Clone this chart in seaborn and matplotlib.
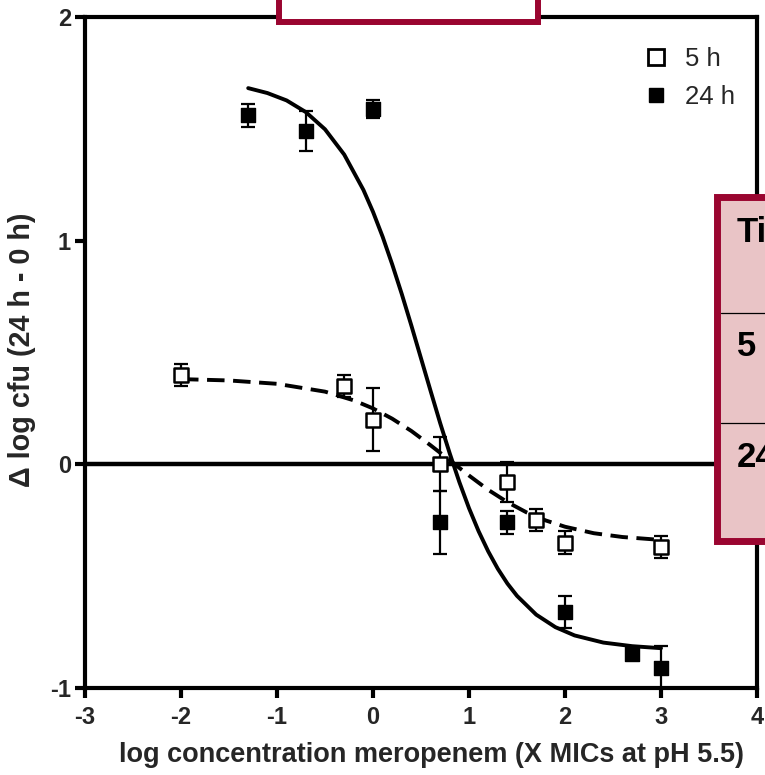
import matplotlib
matplotlib.use("Agg")
import matplotlib.pyplot as plt
import seaborn as sns
import pandas as pd
from matplotlib.patches import Rectangle
from matplotlib.lines import Line2D

# ---- data ----
x_5h = [-2.0, -0.3, 0.0, 0.7, 1.4, 1.7, 2.0, 3.0]
y_5h = [0.40, 0.35, 0.20, 0.00, -0.08, -0.25, -0.35, -0.37]
e_5h = [0.05, 0.05, 0.14, 0.12, 0.09, 0.05, 0.05, 0.05]

x_24h = [-1.3, -0.7, 0.0, 0.7, 1.4, 2.0, 2.7, 3.0]
y_24h = [1.56, 1.49, 1.59, -0.26, -0.26, -0.66, -0.85, -0.91]
e_24h = [0.05, 0.09, 0.04, 0.14, 0.05, 0.07, 0.01, 0.10]

# fitted curves
fit24_x = [-1.3, -1.1, -0.9, -0.7, -0.5, -0.3, -0.1, 0.0, 0.1, 0.2, 0.3, 0.4, 0.5,
           0.6, 0.7, 0.8, 0.9, 1.0, 1.1, 1.2, 1.3, 1.4, 1.5, 1.7, 1.9, 2.1, 2.4, 2.7, 3.0]
fit24_y = [1.682, 1.660, 1.627, 1.575, 1.498, 1.385, 1.227, 1.129, 1.018, 0.894, 0.761,
           0.620, 0.474, 0.328, 0.184, 0.048, -0.080, -0.196, -0.299, -0.389, -0.467,
           -0.533, -0.588, -0.672, -0.728, -0.765, -0.797, -0.813, -0.822]

fit5_x = [-2.0, -1.5, -1.0, -0.5, -0.2, 0.0, 0.2, 0.4, 0.6, 0.8, 1.0, 1.2, 1.4, 1.6,
          1.8, 2.0, 2.3, 2.6, 3.0]
fit5_y = [0.381, 0.375, 0.360, 0.325, 0.286, 0.250, 0.204, 0.149, 0.085, 0.018,
          -0.050, -0.114, -0.169, -0.215, -0.251, -0.279, -0.308, -0.325, -0.338]

legend_labels = ["5 h", "24 h"]
x_ticks = [-3, -2, -1, 0, 1, 2, 3, 4]
y_ticks = [-1, 0, 1, 2]
x_label = "log concentration meropenem (X MICs at pH 5.5)"
y_label = "\u0394 log cfu (24 h - 0 h)"
table_texts = ["Ti", "5", "24"]

# ---- figure ----
sns.set_style("white")
plt.rcParams["font.family"] = ["Liberation Sans", "DejaVu Sans"]

W, H = 765, 775
fig = plt.figure(figsize=(W / 100, H / 100), dpi=100)
ax = fig.add_axes([85 / W, 1 - 688 / H, (757 - 85) / W, (688 - 17) / H])

df5 = pd.DataFrame({"x": x_5h, "y": y_5h})
df24 = pd.DataFrame({"x": x_24h, "y": y_24h})
f24 = pd.DataFrame({"x": fit24_x, "y": fit24_y})
f5 = pd.DataFrame({"x": fit5_x, "y": fit5_y})

ax.axhline(0, color="black", lw=3.2, zorder=1)

sns.lineplot(data=f24, x="x", y="y", ax=ax, color="black", lw=2.8, sort=False, zorder=2)
sns.lineplot(data=f5, x="x", y="y", ax=ax, color="black", lw=2.8, sort=False, zorder=2)
ax.lines[-1].set_linestyle((0, (4.5, 2.2)))

ax.errorbar(x_5h, y_5h, yerr=e_5h, fmt="none", ecolor="black", elinewidth=1.6,
            capsize=5, capthick=1.6, zorder=3)
ax.errorbar(x_24h, y_24h, yerr=e_24h, fmt="none", ecolor="black", elinewidth=1.6,
            capsize=5, capthick=1.6, zorder=3)

sns.scatterplot(data=df5, x="x", y="y", ax=ax, marker="s", s=95, color="white",
                edgecolor="black", linewidth=1.8, zorder=4)
sns.scatterplot(data=df24, x="x", y="y", ax=ax, marker="s", s=95, color="black",
                edgecolor="black", linewidth=1.0, zorder=4)

ax.set_xlim(-3, 4)
ax.set_ylim(-1, 2)
ax.set_xticks(x_ticks)
ax.set_yticks(y_ticks)
ax.set_xticklabels([str(t) for t in x_ticks], fontsize=17, fontweight="bold")
ax.set_yticklabels([str(t) for t in y_ticks], fontsize=17, fontweight="bold")
ax.tick_params(axis="x", direction="out", length=7, width=3, color="black", pad=6)
ax.tick_params(axis="y", direction="out", length=7, width=3, color="black", pad=3)
ax.tick_params(bottom=True, left=True)
for sp in ax.spines.values():
    sp.set_visible(True)
    sp.set_linewidth(3)
    sp.set_color("black")

ax.set_xlabel(x_label, fontsize=19.5, fontweight="bold")
ax.xaxis.set_label_coords(0.516, (688 - 755) / 671, transform=ax.transAxes)
ax.xaxis.label.set_va("center")
ax.set_ylabel(y_label, fontsize=20.7, fontweight="bold")
ax.yaxis.set_label_coords((22 - 85) / 672, (688 - 350) / 671, transform=ax.transAxes)
ax.yaxis.label.set_va("center")

handles = [
    Line2D([], [], marker="s", ls="none", markersize=11, markerfacecolor="white",
           markeredgecolor="black", markeredgewidth=2),
    Line2D([], [], marker="s", ls="none", markersize=10, markerfacecolor="black",
           markeredgecolor="black"),
]
ax.legend(handles, legend_labels, loc="upper right", bbox_to_anchor=(1.002, 0.99),
          frameon=False, fontsize=18.5, handletextpad=0.6, labelspacing=0.55,
          handlelength=1.1)

# ---- overlay boxes (partial slide elements) ----
maroon = "#9A0530"
pink = "#E9C4C6"
top_box = Rectangle((279 / W, 1 - 21.5 / H), (537.5 - 279) / W, 40 / H,
                    transform=fig.transFigure, facecolor="white", edgecolor=maroon,
                    lw=4.3, zorder=10)
fig.add_artist(top_box)
right_box = Rectangle((717 / W, 1 - 540.5 / H), 80 / W, (540.5 - 196.5) / H,
                      transform=fig.transFigure, facecolor=pink, edgecolor=maroon,
                      lw=5, zorder=10)
fig.add_artist(right_box)
for py in (313, 423):
    fig.add_artist(Line2D([721 / W, 1.0], [1 - py / H, 1 - py / H],
                          transform=fig.transFigure, color="black", lw=0.9, zorder=11))
for txt, py in zip(table_texts, (232, 346, 457)):
    fig.text(737 / W, 1 - py / H, txt, fontsize=25, fontweight="bold", color="black",
             ha="left", va="center", zorder=12)

fig.savefig("out.png", dpi=100)
